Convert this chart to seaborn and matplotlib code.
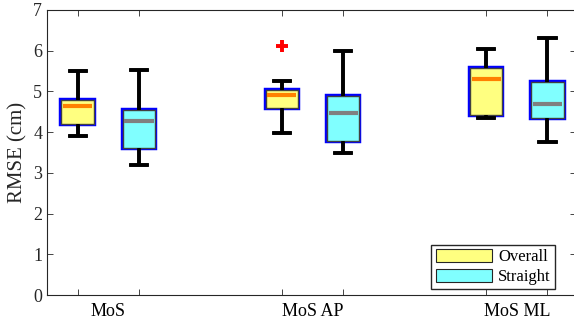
import matplotlib
matplotlib.use('Agg')
import matplotlib.pyplot as plt
from matplotlib.patches import Patch
import numpy as np
import pandas as pd
import seaborn as sns

# box summaries: lower whisker, q1, median, q3, upper whisker
groups = ["MoS", "MoS AP", "MoS ML"]
conditions = ["Overall", "Straight"]
overall_stats = [[3.90, 4.20, 4.65, 4.79, 5.50],
                 [3.97, 4.59, 4.90, 5.04, 5.25],
                 [4.34, 4.42, 5.30, 5.57, 6.04]]
straight_stats = [[3.20, 3.60, 4.28, 4.55, 5.53],
                  [3.48, 3.79, 4.48, 4.89, 6.00],
                  [3.77, 4.34, 4.69, 5.22, 6.31]]
overall_fliers = [[], [6.12], []]
straight_fliers = [[], [], []]
y_ticks = [0, 1, 2, 3, 4, 5, 6, 7]


def samples(st, fl):
    # duplicates keep numpy's quartiles exactly on q1/median/q3
    lo, q1, med, q3, hi = st
    return [lo, q1, q1, med, med, q3, q3, hi] + list(fl)


rows = []
for g, st, fl in zip(groups, overall_stats, overall_fliers):
    for v in samples(st, fl):
        rows.append((g, "Overall", v))
for g, st, fl in zip(groups, straight_stats, straight_fliers):
    for v in samples(st, fl):
        rows.append((g, "Straight", v))
df = pd.DataFrame(rows, columns=["group", "cond", "rmse"])

plt.rcParams['font.family'] = ['Liberation Serif', 'DejaVu Serif']
plt.rcParams['font.size'] = 13

fig = plt.figure(figsize=(5.74, 3.26), dpi=100, facecolor='white')
ax = fig.add_axes([47/574, 31/326, 529/574, 285/326])

face = {"Overall": "#ffff80", "Straight": "#80ffff"}
width, gap = 0.6, 0.47

# outer blue outline first, then thin dark inner outline on top
for lw_edge, ec in [(3.2, "#0000ff"), (1.0, "#404040")]:
    sns.boxplot(data=df, x="group", y="rmse", hue="cond", order=groups,
                hue_order=conditions, palette=face, saturation=1,
                width=width, gap=gap, whis=1.5, ax=ax, legend=False,
                boxprops=dict(edgecolor=ec, linewidth=lw_edge),
                whiskerprops=dict(color="black", linewidth=2.6),
                capprops=dict(color="black", linewidth=2.6),
                medianprops=dict(linewidth=0),
                flierprops=dict(marker="+", markerfacecolor="red",
                                markeredgecolor="red", markersize=8,
                                markeredgewidth=2.6))

# medians coloured per condition
med_col = {"Overall": "#ff8000", "Straight": "#808080"}
off = width / 4
bw = (width / 2) * (1 - gap)
for i, g in enumerate(groups):
    for j, (c, stats) in enumerate(zip(conditions, [overall_stats, straight_stats])):
        x = i + (j * 2 - 1) * off
        m = stats[i][2]
        ax.plot([x - bw / 2 + 0.008, x + bw / 2 - 0.008], [m, m],
                color=med_col[c], linewidth=3, solid_capstyle='butt', zorder=5)

ax.set_xlim(-0.30, 2.29)
ax.set_ylim(0, 7)
ax.set_yticks(y_ticks)
box_pos = [i + s * off for i in range(len(groups)) for s in (-1, 1)]
ax.set_xticks(box_pos)
ax.set_xticklabels([])
ax.set_xticks(range(len(groups)), minor=True)
ax.set_xticklabels(groups, minor=True)
ax.tick_params(axis='x', which='minor', length=0, pad=6)
ax.tick_params(axis='both', which='major', direction='in', length=4,
               width=0.6, top=True, right=True, colors='#262626',
               labelcolor='#262626')
ax.set_xlabel("")
ax.set_ylabel("RMSE (cm)", color='#262626', fontsize=15, labelpad=4)
for s in ax.spines.values():
    s.set_linewidth(0.8)
    s.set_color('#262626')

handles = [Patch(facecolor=face[c], edgecolor='#262626', linewidth=0.8, label=c)
           for c in conditions]
ax.legend(handles=handles, loc='lower right', bbox_to_anchor=(553/576 * 1.0, 0.02),
          bbox_transform=ax.transAxes, fontsize=12, frameon=True,
          fancybox=False, edgecolor='#262626', framealpha=1,
          handlelength=3.4, handleheight=0.85, handletextpad=0.35,
          borderpad=0.25, labelspacing=0.2, borderaxespad=0.0)

plt.savefig("out.png", dpi=100)
